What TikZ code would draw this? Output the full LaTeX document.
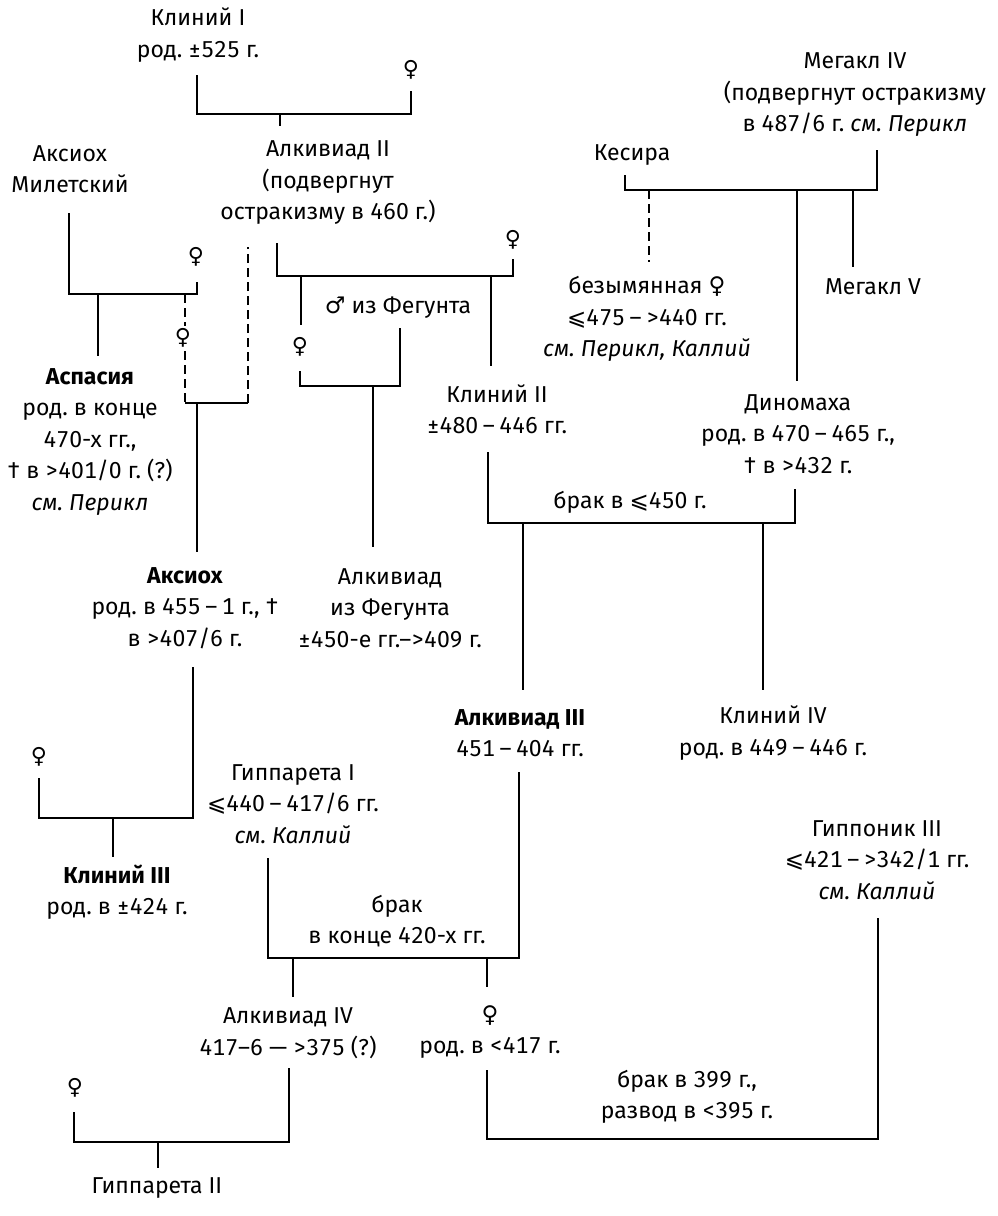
\documentclass[tikz,border=0pt]{standalone}
\usepackage{fontspec}
\setmainfont{Fira Sans}[Numbers=Monospaced]
\newfontfamily\symfont{DejaVu Sans}
\usetikzlibrary{positioning}
\frenchspacing
\newcommand{\fem}{{\symfont ♀}}
\newcommand{\masc}{{\symfont ♂}}
\newcommand{\leqsym}{{\symfont ⩽}}
\newcommand{\rg}{\kern0.2em–\kern0.2em}
\newcommand{\see}[1]{\textit{см. #1}}
\tikzset{
  every picture/.style={line width=1.2pt, line cap=butt, line join=miter},
  every node/.style={font=\fontsize{23}{31.5}\selectfont},
  % Personen und Beschriftungen
  person/.style={align=center, inner sep=0pt},
  sex/.style={inner sep=0pt, font=\fontsize{22}{22}\selectfont\symfont},
  % Linien
  link/.style={line width=1.2pt},
  maybe/.style={link, dash pattern=on 9pt off 5pt},
}
\begin{document}
\begin{tikzpicture}[x=1pt, y=-1pt]
  \useasboundingbox (0,0) rectangle (998,1216);
  % Personen
  \node[person] (kl1) at (198,35) {Клиний I\\род. ±525 г.};
  \node[sex] (f1) at (411,70) {♀};
  \node[person] (alk2) at (328,183) {Алкивиад II\\(подвергнут\\остракизму в 460 г.)};
  \node[person] (axm) at (70,169) {Аксиох\\Милетский};
  \node[sex] (f2) at (196,257) {♀};
  \node[sex] (f3) at (183,338) {♀};
  \node[person] (asp) at (90,442) {\textbf{Аспасия}\\род. в конце\\470-х гг.,\\† в >401/0 г. (?)\\\see{Перикл}};
  \node[sex] (f4) at (513,240) {♀};
  \node[person] (fm) at (398,308) {\masc{} из Фегунта};
  \node[sex] (f5) at (300,347) {♀};
  \node[person] (kl2) at (497,409) {Клиний II\\±480\rg446 гг.};
  \node[person] (kes) at (632,155) {Кесира};
  \node[person] (meg4) at (855,95) {Мегакл IV\\(подвергнут остракизму\\в 487/6 г. \see{Перикл}};
  \node[person] (bez) at (647,319) {безымянная \fem\\\leqsym475\rg>440 гг.\\\see{Перикл, Каллий}};
  \node[person] (meg5) at (873,287) {Мегакл V};
  \node[person] (din) at (798,434) {Диномаха\\род. в 470\rg465 г.,\\† в >432 г.};
  \node[person] (brak1) at (630,502) {брак в \leqsym450 г.};
  \node[person] (axi) at (185,608) {\textbf{Аксиох}\\род. в 455\rg1 г., †\\в >407/6 г.};
  \node[person] (alkf) at (390,608) {Алкивиад\\из Фегунта\\±450-е гг.–>409 г.};
  \node[person] (alk3) at (520,733) {\textbf{Алкивиад III}\\451\rg404 гг.};
  \node[person] (kl4) at (773,733) {Клиний IV\\род. в 449\rg446 г.};
  \node[sex] (f6) at (39,757) {♀};
  \node[person] (hip1) at (293,804) {Гиппарета I\\\leqsym440\rg417/6 гг.\\\see{Каллий}};
  \node[person] (kl3) at (117,892) {\textbf{Клиний III}\\род. в ±424 г.};
  \node[person] (hipn) at (877,860) {Гиппоник III\\\leqsym421\rg>342/1 гг.\\\see{Каллий}};
  \node[person] (brak2) at (397,921) {брак\\в конце 420-х гг.};
  \node[person] (alk4) at (288,1033) {Алкивиад IV\\417–6 — >375 (?)};
  \node[person] (dau) at (490,1032) {\fem\\род. в <417 г.};
  \node[sex] (f8) at (75,1088) {♀};
  \node[person] (brak3) at (687,1097) {брак в 399 г.,\\развод в <395 г.};
  \node[person] (hip2) at (157,1188) {Гиппарета II};

  % Клиний I + ♀
  \coordinate (kl1-s) at (197,75);
  \coordinate (f1-s) at (411,91);
  \coordinate (mA) at (280,114);
  \coordinate (alk2-n) at (280,126);
  \draw[link] (kl1-s) |- (mA) -| (f1-s);
  \draw[link] (mA) -- (alk2-n);

  % Аксиох Милетский + ♀
  \coordinate (axm-s) at (69,213);
  \coordinate (f2-s) at (197,282);
  \coordinate (mB) at (98,294);
  \coordinate (mB2) at (185,294);
  \coordinate (asp-n) at (98,356);
  \draw[link] (axm-s) |- (mB) -| (f2-s);
  \draw[link] (mB) -- (asp-n);
  % ♀ (?) + Алкивиад II (?)
  \coordinate (f3-n) at (185,326);
  \coordinate (f3-s) at (185,351);
  \coordinate (mC) at (197,403);
  \coordinate (mC-l) at (185,403);
  \coordinate (mC-r) at (248,403);
  \coordinate (alk2-x) at (248,247);
  \coordinate (axi-n) at (197,552);
  \draw[maybe] (mB2) -- (f3-n);
  \draw[maybe] (f3-s) -- (mC-l);
  \draw[link] (mC-l) -- (mC-r);
  \draw[maybe] (mC-r) -- (alk2-x);
  \draw[link] (mC) -- (axi-n);

  % Алкивиад II + ♀
  \coordinate (alk2-s) at (277,243);
  \coordinate (f4-s) at (513,259);
  \coordinate (mD) at (301,276);
  \coordinate (mD2) at (491,276);
  \coordinate (f5-n) at (301,325);
  \coordinate (kl2-n) at (491,366);
  \draw[link] (alk2-s) |- (mD) -| (f4-s);
  \draw[link] (mD) -- (f5-n);
  \draw[link] (mD2) -- (kl2-n);

  % ♀ + ♂ из Фегунта
  \coordinate (f5-s) at (300,371);
  \coordinate (fm-s) at (400,328);
  \coordinate (mE) at (373,386);
  \coordinate (alkf-n) at (373,547);
  \draw[link] (f5-s) |- (mE) -| (fm-s);
  \draw[link] (mE) -- (alkf-n);

  % Кесира + Мегакл IV
  \coordinate (kes-s) at (625,175);
  \coordinate (meg4-s) at (877,150);
  \coordinate (mF1) at (649,190);
  \coordinate (mF2) at (797,190);
  \coordinate (mF3) at (853,190);
  \coordinate (bez-n) at (649,262);
  \coordinate (din-n) at (797,381);
  \coordinate (meg5-n) at (853,267);
  \draw[link] (kes-s) |- (mF1) -| (meg4-s);
  \draw[maybe] (mF1) -- (bez-n);
  \draw[link] (mF2) -- (din-n);
  \draw[link] (mF3) -- (meg5-n);

  % Клиний II + Диномаха
  \coordinate (kl2-s) at (488,452);
  \coordinate (din-s) at (795,489);
  \coordinate (mG) at (523,523);
  \coordinate (mG2) at (763,523);
  \coordinate (alk3-n) at (523,690);
  \coordinate (kl4-n) at (763,690);
  \draw[link] (kl2-s) |- (mG) -| (din-s);
  \draw[link] (mG) -- (alk3-n);
  \draw[link] (mG2) -- (kl4-n);

  % Аксиох + ♀
  \coordinate (axi-s) at (193,667);
  \coordinate (f6-s) at (39,778);
  \coordinate (mH) at (113,818);
  \coordinate (kl3-n) at (113,857);
  \draw[link] (axi-s) |- (mH) -| (f6-s);
  \draw[link] (mH) -- (kl3-n);

  % Гиппарета I + Алкивиад III
  \coordinate (hip1-s) at (268,858);
  \coordinate (alk3-s) at (519,772);
  \coordinate (mI) at (293,958);
  \coordinate (mI2) at (487,958);
  \coordinate (alk4-n) at (293,997);
  \coordinate (dau-n) at (487,987);
  \draw[link] (hip1-s) |- (mI) -| (alk3-s);
  \draw[link] (mI) -- (alk4-n);
  \draw[link] (mI2) -- (dau-n);

  % Алкивиад IV + ♀
  \coordinate (alk4-s) at (289,1068);
  \coordinate (f8-s) at (74,1112);
  \coordinate (mJ) at (158,1142);
  \coordinate (hip2-n) at (158,1168);
  \draw[link] (alk4-s) |- (mJ) -| (f8-s);
  \draw[link] (mJ) -- (hip2-n);

  % ♀ + Гиппоник III
  \coordinate (dau-s) at (487,1070);
  \coordinate (mK) at (487,1139);
  \coordinate (hipn-s) at (878,918);
  \draw[link] (dau-s) -- (mK) -| (hipn-s);
\end{tikzpicture}
\end{document}
